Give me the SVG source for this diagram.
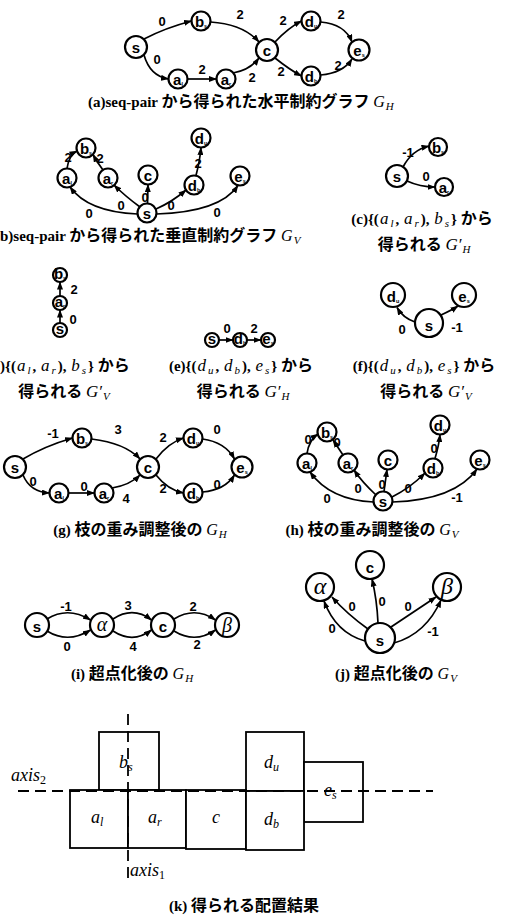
<svg xmlns="http://www.w3.org/2000/svg" width="519" height="919" viewBox="0 0 519 919">
<defs>
<marker id="ah" viewBox="0 0 8 6" refX="7.5" refY="3" markerWidth="8" markerHeight="6" markerUnits="userSpaceOnUse" orient="auto"><path d="M0,0 L8,3 L0,6 z" fill="#000"/></marker>
<style>
.n{fill:#fff;stroke:#000;stroke-width:2.2}
.e{fill:none;stroke:#000;stroke-width:1.7;marker-end:url(#ah)}
.nl{font-family:"Liberation Sans",Arial,sans-serif;font-weight:bold;text-anchor:middle;font-size:15px}
.el{font-family:"Liberation Sans",Arial,sans-serif;font-weight:bold;text-anchor:middle;font-size:13px}
.cap{font-family:"Liberation Serif","Noto Sans CJK JP",serif;font-size:15px;font-weight:bold}
.jp{font-family:"Noto Sans CJK JP",sans-serif;font-size:16px;font-weight:bold}
.mc{text-anchor:middle}
.mi{font-family:"Liberation Serif",serif;font-style:italic;font-weight:normal}
.sb{font-size:5.5px}
.r{fill:#fff;stroke:#000;stroke-width:1.8}
.ax{stroke:#000;stroke-width:1.8;stroke-dasharray:11 6;fill:none}
.kl{font-family:"Liberation Serif",serif;font-style:italic;font-size:18px}
.gk{font-family:"Liberation Serif",serif;font-style:italic;text-anchor:middle}
</style>
</defs>
<rect width="519" height="919" fill="#fff"/>

<!-- (a) -->
<g id="a-edges">
<path class="e" d="M144,39 Q165,28 191.5,21"/>
<path class="e" d="M210.5,22 Q243,24 259,42"/>
<path class="e" d="M144,55 Q150,76 168.5,79"/>
<path class="e" d="M187.5,79 L216.5,79"/>
<path class="e" d="M233,73 Q250,70 259,58"/>
<path class="e" d="M275,42 Q288,28 301.5,21"/>
<path class="e" d="M275,58 Q290,70 301.5,76"/>
<path class="e" d="M320.5,22 Q345,24 352,42"/>
<path class="e" d="M320.5,75 Q343,73 352,59"/>
<text class="el" x="162" y="26">0</text><text class="el" x="240" y="19">2</text>
<text class="el" x="157" y="64">0</text><text class="el" x="202" y="74">2</text>
<text class="el" x="252" y="82">2</text><text class="el" x="283" y="25">2</text>
<text class="el" x="341" y="19">2</text><text class="el" x="281" y="76">2</text>
<text class="el" x="338" y="70">2</text>
</g>
<g id="a-s"><circle class="n" cx="136" cy="47" r="11"/><text class="nl" x="136" y="53" font-size="18">s</text></g>
<g id="a-bs"><circle class="n" cx="201" cy="21" r="9.5"/><text class="nl" x="201" y="26.5">b<tspan class="sb" dy="1">s</tspan></text></g>
<g id="a-al"><circle class="n" cx="178" cy="79" r="9.5"/><text class="nl" x="178" y="84.5">a<tspan class="sb" dy="1">l</tspan></text></g>
<g id="a-ar"><circle class="n" cx="226" cy="79" r="9.5"/><text class="nl" x="226" y="84.5">a<tspan class="sb" dy="1">r</tspan></text></g>
<g id="a-c"><circle class="n" cx="267" cy="50" r="11"/><text class="nl" x="267" y="56" font-size="18">c</text></g>
<g id="a-du"><circle class="n" cx="311" cy="21" r="9.5"/><text class="nl" x="311" y="26.5">d<tspan class="sb" dy="1">u</tspan></text></g>
<g id="a-db"><circle class="n" cx="311" cy="76" r="9.5"/><text class="nl" x="311" y="81.5">d<tspan class="sb" dy="1">b</tspan></text></g>
<g id="a-es"><circle class="n" cx="359" cy="50" r="10.5"/><text class="nl" x="359" y="55.5" font-size="16">e<tspan class="sb" dy="1">s</tspan></text></g>
<text class="cap" x="88" y="107">(a)seq-pair <tspan class="jp">から得られた水平制約グラフ</tspan> <tspan class="mi" font-size="16">G</tspan><tspan class="mi" font-size="11" dx="1" dy="3">H</tspan></text>

<!-- (b) -->
<g id="b-edges">
<path class="e" d="M67,168.5 Q69,155 77,151"/>
<path class="e" d="M103,170 Q97,162 93,154.5"/>
<path class="e" d="M196,175.5 Q200,160 201,147.5"/>
<path class="e" d="M137.5,214 Q88,212 70,187"/>
<path class="e" d="M140,207 Q125,196 114,185"/>
<path class="e" d="M147.5,203.5 L148,184.5"/>
<path class="e" d="M156,209 Q172,202 186,190"/>
<path class="e" d="M156.5,214 Q220,212 238,185.5"/>
<text class="el" x="68" y="162">2</text><text class="el" x="100" y="163">2</text>
<text class="el" x="198" y="168">2</text><text class="el" x="89" y="218">0</text>
<text class="el" x="121" y="210">0</text><text class="el" x="145" y="202">0</text>
<text class="el" x="171" y="210">0</text><text class="el" x="217" y="217">0</text>
</g>
<g id="b-bs"><circle class="n" cx="86" cy="148" r="9.5"/><text class="nl" x="86" y="153.5">b<tspan class="sb" dy="1">s</tspan></text></g>
<g id="b-al"><circle class="n" cx="67" cy="178" r="9.5"/><text class="nl" x="67" y="183.5">a<tspan class="sb" dy="1">l</tspan></text></g>
<g id="b-ar"><circle class="n" cx="108" cy="178" r="9.5"/><text class="nl" x="108" y="183.5">a<tspan class="sb" dy="1">r</tspan></text></g>
<g id="b-c"><circle class="n" cx="148" cy="175" r="9.5"/><text class="nl" x="148" y="180.5" font-size="16">c</text></g>
<g id="b-du"><circle class="n" cx="201" cy="138" r="9.5"/><text class="nl" x="201" y="143.5">d<tspan class="sb" dy="1">u</tspan></text></g>
<g id="b-db"><circle class="n" cx="194" cy="185" r="9.5"/><text class="nl" x="194" y="190.5">d<tspan class="sb" dy="1">b</tspan></text></g>
<g id="b-es"><circle class="n" cx="240" cy="176" r="9.5"/><text class="nl" x="240" y="181.5">e<tspan class="sb" dy="1">s</tspan></text></g>
<g id="b-s"><circle class="n" cx="147" cy="213" r="9.5"/><text class="nl" x="147" y="218.5" font-size="16">s</text></g>
<text class="cap" x="0" y="241">b)seq-pair <tspan class="jp">から得られた垂直制約グラフ</tspan> <tspan class="mi" font-size="16">G</tspan><tspan class="mi" font-size="11" dx="1" dy="3">V</tspan></text>

<!-- (c) -->
<g id="c-edges">
<path class="e" d="M403,167 Q412,150 429,146"/>
<path class="e" d="M407,181 Q420,187 435,187"/>
<text class="el" x="408" y="157">-1</text><text class="el" x="426" y="181">0</text>
</g>
<g id="c-bs"><circle class="n" cx="438" cy="147" r="9"/><text class="nl" x="438" y="152.5">b<tspan class="sb" dy="1">s</tspan></text></g>
<g id="c-s"><circle class="n" cx="397" cy="176" r="11"/><text class="nl" x="397" y="182" font-size="18">s</text></g>
<g id="c-ar"><circle class="n" cx="444" cy="187" r="9"/><text class="nl" x="444" y="192.5">a<tspan class="sb" dy="1">r</tspan></text></g>
<text class="cap mc" x="422" y="224">(c){(<tspan class="mi" font-size="17" dx="1">a</tspan><tspan class="mi" font-size="11" dx="2" dy="2.5">l</tspan><tspan dx="2" dy="-2.5">, </tspan><tspan class="mi" font-size="17" dx="1">a</tspan><tspan class="mi" font-size="11" dx="2" dy="2.5">r</tspan><tspan dx="2" dy="-2.5">), </tspan><tspan class="mi" font-size="17" dx="1">b</tspan><tspan class="mi" font-size="11" dx="2" dy="2.5">s</tspan><tspan dx="2" dy="-2.5">} </tspan><tspan class="jp">から</tspan></text>
<text class="cap mc" x="424" y="250"><tspan class="jp">得られる</tspan> <tspan class="mi" font-size="17">G′</tspan><tspan class="mi" font-size="11" dx="1" dy="3">H</tspan></text>

<!-- (d) -->
<g id="d-edges">
<path class="e" d="M60,323 L60,310"/>
<path class="e" d="M60,296 L60,282"/>
<text class="el" x="74" y="294">2</text><text class="el" x="73" y="324">0</text>
</g>
<g id="d-bs"><circle class="n" cx="60" cy="275" r="7"/><text class="nl" x="60" y="279" font-size="11">b<tspan class="sb" font-size="4.5" dy="1">s</tspan></text></g>
<g id="d-ar"><circle class="n" cx="60" cy="303" r="7"/><text class="nl" x="60" y="307" font-size="11">a<tspan class="sb" font-size="4.5" dy="1">r</tspan></text></g>
<g id="d-s"><circle class="n" cx="60" cy="330" r="7"/><text class="nl" x="60" y="334" font-size="12">s</text></g>
<text class="cap" x="0" y="371">){(<tspan class="mi" font-size="17" dx="1">a</tspan><tspan class="mi" font-size="11" dx="2" dy="2.5">l</tspan><tspan dx="2" dy="-2.5">, </tspan><tspan class="mi" font-size="17" dx="1">a</tspan><tspan class="mi" font-size="11" dx="2" dy="2.5">r</tspan><tspan dx="2" dy="-2.5">), </tspan><tspan class="mi" font-size="17" dx="1">b</tspan><tspan class="mi" font-size="11" dx="2" dy="2.5">s</tspan><tspan dx="2" dy="-2.5">} </tspan><tspan class="jp">から</tspan></text>
<text class="cap mc" x="64" y="397"><tspan class="jp">得られる</tspan> <tspan class="mi" font-size="17">G′</tspan><tspan class="mi" font-size="11" dx="1" dy="3">V</tspan></text>

<!-- (e) -->
<g id="e-edges">
<path class="e" d="M219,340 L233,340"/>
<path class="e" d="M247,340 L261,340"/>
<text class="el" x="227" y="333" font-size="11">0</text><text class="el" x="254" y="333" font-size="11">2</text>
</g>
<g id="e-s"><circle class="n" cx="212" cy="340" r="7"/><text class="nl" x="212" y="344" font-size="12">s</text></g>
<g id="e-db"><circle class="n" cx="240" cy="340" r="7"/><text class="nl" x="240" y="344" font-size="11">d<tspan class="sb" font-size="4.5" dy="1">b</tspan></text></g>
<g id="e-es"><circle class="n" cx="268" cy="340" r="7"/><text class="nl" x="268" y="344" font-size="11">e<tspan class="sb" font-size="4.5" dy="1">s</tspan></text></g>
<text class="cap mc" x="241" y="371">(e){(<tspan class="mi" font-size="17" dx="1">d</tspan><tspan class="mi" font-size="11" dx="2" dy="2.5">u</tspan><tspan dx="2" dy="-2.5">, </tspan><tspan class="mi" font-size="17" dx="1">d</tspan><tspan class="mi" font-size="11" dx="2" dy="2.5">b</tspan><tspan dx="2" dy="-2.5">), </tspan><tspan class="mi" font-size="17" dx="1">e</tspan><tspan class="mi" font-size="11" dx="2" dy="2.5">s</tspan><tspan dx="2" dy="-2.5">} </tspan><tspan class="jp">から</tspan></text>
<text class="cap mc" x="243" y="397"><tspan class="jp">得られる</tspan> <tspan class="mi" font-size="17">G′</tspan><tspan class="mi" font-size="11" dx="1" dy="3">H</tspan></text>

<!-- (f) -->
<g id="f-edges">
<path class="e" d="M415,322 Q403,318 397,307.5"/>
<path class="e" d="M441,315 Q452,310 458,306"/>
<text class="el" x="402" y="334" font-size="15">0</text><text class="el" x="457" y="332" font-size="15">-1</text>
</g>
<g id="f-du"><circle class="n" cx="393" cy="295" r="12"/><text class="nl" x="393" y="301.5" font-size="19">d<tspan class="sb" font-size="7" dy="1">u</tspan></text></g>
<g id="f-es"><circle class="n" cx="464" cy="295" r="12"/><text class="nl" x="464" y="301.5" font-size="19">e<tspan class="sb" font-size="7" dy="1">s</tspan></text></g>
<g id="f-s"><circle class="n" cx="429" cy="323" r="14"/><text class="nl" x="429" y="331" font-size="22">s</text></g>
<text class="cap mc" x="424" y="371">(f){(<tspan class="mi" font-size="17" dx="1">d</tspan><tspan class="mi" font-size="11" dx="2" dy="2.5">u</tspan><tspan dx="2" dy="-2.5">, </tspan><tspan class="mi" font-size="17" dx="1">d</tspan><tspan class="mi" font-size="11" dx="2" dy="2.5">b</tspan><tspan dx="2" dy="-2.5">), </tspan><tspan class="mi" font-size="17" dx="1">e</tspan><tspan class="mi" font-size="11" dx="2" dy="2.5">s</tspan><tspan dx="2" dy="-2.5">} </tspan><tspan class="jp">から</tspan></text>
<text class="cap mc" x="426" y="397"><tspan class="jp">得られる</tspan> <tspan class="mi" font-size="17">G′</tspan><tspan class="mi" font-size="11" dx="1" dy="3">V</tspan></text>

<!-- (g) -->
<g id="g-edges">
<path class="e" d="M23,459 Q45,446 72.5,438"/>
<path class="e" d="M91.5,439 Q125,443 140,459"/>
<path class="e" d="M23,475 Q30,492 49.5,493"/>
<path class="e" d="M68.5,493 L94.5,493"/>
<path class="e" d="M112,488 Q130,485 140,475"/>
<path class="e" d="M156,459 Q168,443 183.5,438"/>
<path class="e" d="M156,475 Q168,490 183.5,493"/>
<path class="e" d="M202.5,439 Q225,442 234.5,459"/>
<path class="e" d="M202.5,492 Q225,490 234.5,475"/>
<text class="el" x="53" y="438">-1</text><text class="el" x="118" y="434">3</text>
<text class="el" x="33" y="486">0</text><text class="el" x="84" y="491">0</text>
<text class="el" x="126" y="503">4</text><text class="el" x="163" y="442">2</text>
<text class="el" x="217" y="434">0</text><text class="el" x="163" y="493">2</text>
<text class="el" x="217" y="489">0</text>
</g>
<g id="g-s"><circle class="n" cx="15" cy="467" r="11"/><text class="nl" x="15" y="473" font-size="18">s</text></g>
<g id="g-bs"><circle class="n" cx="82" cy="438" r="9.5"/><text class="nl" x="82" y="443.5">b<tspan class="sb" dy="1">s</tspan></text></g>
<g id="g-al"><circle class="n" cx="59" cy="493" r="9.5"/><text class="nl" x="59" y="498.5">a<tspan class="sb" dy="1">l</tspan></text></g>
<g id="g-ar"><circle class="n" cx="104" cy="493" r="9.5"/><text class="nl" x="104" y="498.5">a<tspan class="sb" dy="1">r</tspan></text></g>
<g id="g-c"><circle class="n" cx="148" cy="467" r="11"/><text class="nl" x="148" y="473" font-size="18">c</text></g>
<g id="g-du"><circle class="n" cx="193" cy="438" r="9.5"/><text class="nl" x="193" y="443.5">d<tspan class="sb" dy="1">u</tspan></text></g>
<g id="g-db"><circle class="n" cx="193" cy="493" r="9.5"/><text class="nl" x="193" y="498.5">d<tspan class="sb" dy="1">b</tspan></text></g>
<g id="g-es"><circle class="n" cx="242" cy="467" r="10.5"/><text class="nl" x="242" y="472.5" font-size="16">e<tspan class="sb" dy="1">s</tspan></text></g>
<text class="cap mc" x="140" y="535">(g) <tspan class="jp">枝の重み調整後の</tspan> <tspan class="mi" font-size="16">G</tspan><tspan class="mi" font-size="11" dx="1" dy="3">H</tspan></text>

<!-- (h) -->
<g id="h-edges">
<path class="e" d="M307,453.5 Q309,440 318,434"/>
<path class="e" d="M343,455 Q337,446 333,440"/>
<path class="e" d="M435,458.5 Q439,445 440,434.5"/>
<path class="e" d="M373.5,502 Q330,500 310,472"/>
<path class="e" d="M376,495 Q362,482 354,470"/>
<path class="e" d="M384,491.5 L387,469.5"/>
<path class="e" d="M392,497 Q410,488 425,473"/>
<path class="e" d="M392.5,502 Q455,500 477,469"/>
<text class="el" x="308" y="444">0</text><text class="el" x="337" y="447">0</text>
<text class="el" x="434" y="453">0</text><text class="el" x="327" y="503">0</text>
<text class="el" x="358" y="493">0</text><text class="el" x="382" y="489">0</text>
<text class="el" x="408" y="493">0</text><text class="el" x="457" y="502">-1</text>
</g>
<g id="h-bs"><circle class="n" cx="327" cy="432" r="9.5"/><text class="nl" x="327" y="437.5">b<tspan class="sb" dy="1">s</tspan></text></g>
<g id="h-al"><circle class="n" cx="307" cy="463" r="9.5"/><text class="nl" x="307" y="468.5">a<tspan class="sb" dy="1">l</tspan></text></g>
<g id="h-ar"><circle class="n" cx="348" cy="463" r="9.5"/><text class="nl" x="348" y="468.5">a<tspan class="sb" dy="1">r</tspan></text></g>
<g id="h-c"><circle class="n" cx="388" cy="460" r="9.5"/><text class="nl" x="388" y="465.5" font-size="16">c</text></g>
<g id="h-du"><circle class="n" cx="440" cy="425" r="9.5"/><text class="nl" x="440" y="430.5">d<tspan class="sb" dy="1">u</tspan></text></g>
<g id="h-db"><circle class="n" cx="433" cy="468" r="9.5"/><text class="nl" x="433" y="473.5">d<tspan class="sb" dy="1">b</tspan></text></g>
<g id="h-es"><circle class="n" cx="480" cy="460" r="9.5"/><text class="nl" x="480" y="465.5">e<tspan class="sb" dy="1">s</tspan></text></g>
<g id="h-s"><circle class="n" cx="383" cy="501" r="9.5"/><text class="nl" x="383" y="506.5" font-size="16">s</text></g>
<text class="cap mc" x="372" y="535">(h) <tspan class="jp">枝の重み調整後の</tspan> <tspan class="mi" font-size="16">G</tspan><tspan class="mi" font-size="11" dx="1" dy="3">V</tspan></text>

<!-- (i) -->
<g id="i-edges">
<path class="e" d="M47,619 Q68,606 90.5,620"/>
<path class="e" d="M47,631 Q68,644 90.5,630"/>
<path class="e" d="M113,619 Q133,606 151.5,620"/>
<path class="e" d="M113,631 Q133,644 151.5,630"/>
<path class="e" d="M174,619 Q195,606 215.5,620"/>
<path class="e" d="M174,631 Q195,644 215.5,630"/>
<text class="el" x="66" y="611" font-size="14">-1</text><text class="el" x="67" y="651" font-size="14">0</text>
<text class="el" x="128" y="610" font-size="14">3</text><text class="el" x="133" y="651" font-size="14">4</text>
<text class="el" x="193" y="611" font-size="14">2</text><text class="el" x="197" y="649" font-size="14">2</text>
</g>
<g id="i-s"><circle class="n" cx="37" cy="625" r="12"/><text class="nl" x="37" y="631.5" font-size="19">s</text></g>
<g id="i-alpha"><circle class="n" cx="102" cy="625" r="12"/><text class="gk" x="102" y="631" font-size="20">α</text></g>
<g id="i-c"><circle class="n" cx="163" cy="625" r="12"/><text class="nl" x="163" y="631.5" font-size="19">c</text></g>
<g id="i-beta"><circle class="n" cx="227" cy="625" r="12"/><text class="gk" x="227" y="631.5" font-size="20">β</text></g>
<text class="cap mc" x="132" y="679">(i) <tspan class="jp">超点化後の</tspan> <tspan class="mi" font-size="16">G</tspan><tspan class="mi" font-size="11" dx="1" dy="3">H</tspan></text>

<!-- (j) -->
<g id="j-edges">
<path class="e" d="M365,641 Q336,633 324,601"/>
<path class="e" d="M368,629 Q347,614 332,597"/>
<path class="e" d="M378,623 Q377,600 372,579"/>
<path class="e" d="M391,627 Q415,611 436,597"/>
<path class="e" d="M394,643 Q426,634 441,600"/>
<text class="el" x="332" y="633" font-size="16">0</text><text class="el" x="352" y="611" font-size="16">0</text>
<text class="el" x="382" y="606" font-size="16">0</text><text class="el" x="408" y="611" font-size="16">0</text>
<text class="el" x="433" y="636" font-size="16">-1</text>
</g>
<g id="j-alpha"><circle class="n" cx="320" cy="587" r="14"/><text class="gk" x="320" y="594" font-size="24">α</text></g>
<g id="j-c"><circle class="n" cx="370" cy="565" r="14"/><text class="nl" x="370" y="573" font-size="22">c</text></g>
<g id="j-beta"><circle class="n" cx="447" cy="587" r="14"/><text class="gk" x="447" y="594" font-size="24">β</text></g>
<g id="j-s"><circle class="n" cx="380" cy="638" r="15"/><text class="nl" x="380" y="646" font-size="22">s</text></g>
<text class="cap mc" x="396" y="679">(j) <tspan class="jp">超点化後の</tspan> <tspan class="mi" font-size="16">G</tspan><tspan class="mi" font-size="11" dx="1" dy="3">V</tspan></text>

<!-- (k) -->
<g id="k-bs"><rect class="r" x="99" y="732" width="60" height="58"/><text class="kl" x="119" y="768">b<tspan font-size="12" dy="3">s</tspan></text></g>
<g id="k-du"><rect class="r" x="246" y="732" width="58" height="59"/><text class="kl" x="264" y="768">d<tspan font-size="12" dy="3">u</tspan></text></g>
<g id="k-es"><rect class="r" x="304" y="762" width="59" height="60"/><text class="kl" x="324" y="796">e<tspan font-size="12" dy="3">s</tspan></text></g>
<g id="k-al"><rect class="r" x="70" y="790" width="58" height="58"/><text class="kl" x="91" y="823">a<tspan font-size="12" dy="3">l</tspan></text></g>
<g id="k-ar"><rect class="r" x="128" y="790" width="58" height="58"/><text class="kl" x="148" y="823">a<tspan font-size="12" dy="3">r</tspan></text></g>
<g id="k-c"><rect class="r" x="186" y="790" width="60" height="59"/><text class="kl" x="212" y="823">c</text></g>
<g id="k-db"><rect class="r" x="246" y="791" width="58" height="59"/><text class="kl" x="264" y="825">d<tspan font-size="12" dy="3">b</tspan></text></g>
<g id="k-axes">
<path class="ax" d="M18,791 L433,791"/>
<path class="ax" d="M128,714 L128,883"/>
<text class="kl" x="11" y="781">axis<tspan font-style="normal" font-size="12" dy="3">2</tspan></text>
<text class="kl" x="130" y="876">axis<tspan font-style="normal" font-size="12" dy="3">1</tspan></text>
</g>
<text class="cap mc" x="244" y="911">(k) <tspan class="jp" font-size="17">得られる配置結果</tspan></text>
</svg>
